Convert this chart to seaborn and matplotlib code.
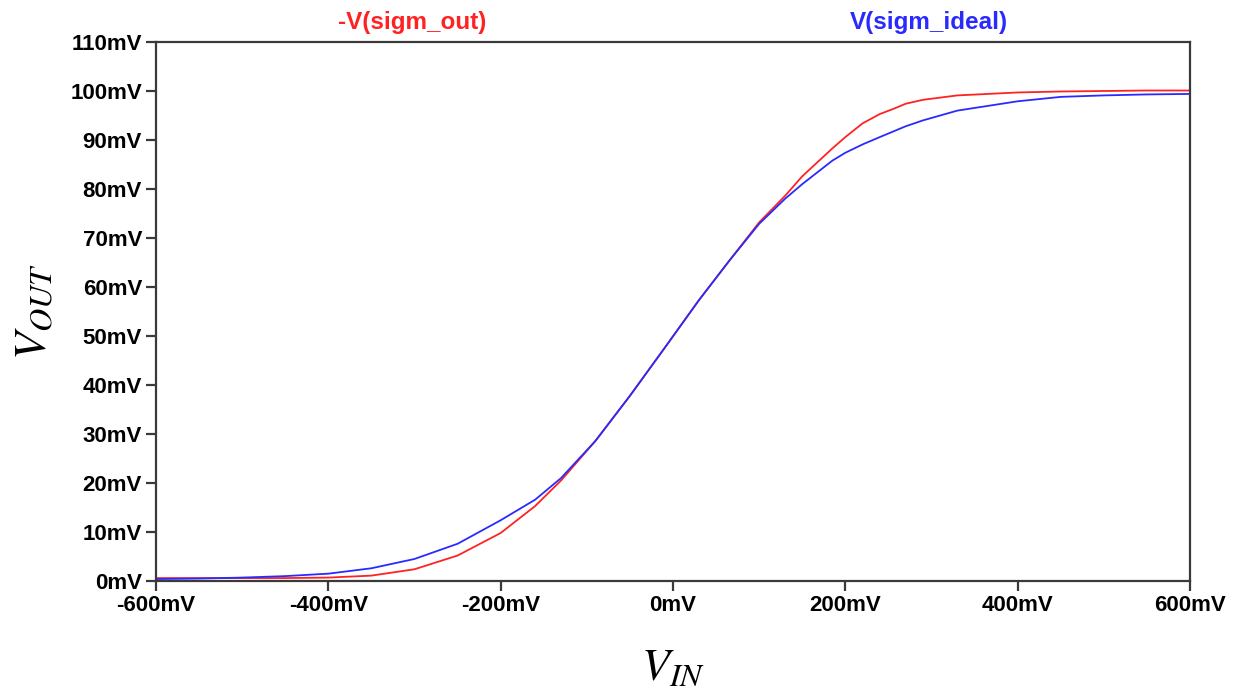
import numpy as np
import pandas as pd
import matplotlib
matplotlib.use("Agg")
import matplotlib.pyplot as plt
import seaborn as sns
from matplotlib.ticker import FuncFormatter, MultipleLocator

# 入力電圧 (mV)
vin_mv = [-600, -550, -500, -450, -400, -350, -300, -250, -200, -160, -130,
          -90, -50, -10, 30, 65, 100, 130, 150, 185, 200, 220, 240, 255, 270,
          290, 330, 400, 450, 500, 550, 600]

# -V(sigm_out) (mV)
sigm_out_mv = [0.6, 0.6, 0.6, 0.6, 0.7, 1.1, 2.4, 5.2, 9.8, 15.3, 20.5,
               28.6, 37.8, 47.5, 57.3, 65.3, 73.2, 78.6, 82.6, 88.3, 90.6,
               93.4, 95.3, 96.3, 97.4, 98.2, 99.1, 99.7, 99.9, 100.0, 100.1,
               100.1]

# V(sigm_ideal) (mV)
sigm_ideal_mv = [0.4, 0.5, 0.7, 1.0, 1.5, 2.6, 4.5, 7.6, 12.4, 16.6, 21.0,
                 28.6, 37.8, 47.5, 57.3, 65.3, 72.9, 78.0, 81.0, 85.8, 87.4,
                 89.1, 90.6, 91.7, 92.8, 94.0, 96.0, 97.9, 98.8, 99.1, 99.3,
                 99.4]

trace_names = ["-V(sigm_out)", "V(sigm_ideal)"]
trace_colors = ["#ff2222", "#2a2aff"]

df = pd.concat([
    pd.DataFrame({"vin": vin_mv, "vout": sigm_out_mv, "trace": trace_names[0]}),
    pd.DataFrame({"vin": vin_mv, "vout": sigm_ideal_mv, "trace": trace_names[1]}),
])

sns.set_style("ticks")
plt.rcParams["font.family"] = ["Liberation Sans", "DejaVu Sans"]
plt.rcParams["mathtext.fontset"] = "stix"

fig = plt.figure(figsize=(12.39, 6.93), dpi=100)
ax = fig.add_axes([0.1259, 0.1616, 0.8346, 0.7778])

sns.lineplot(data=df, x="vin", y="vout", hue="trace",
             palette=dict(zip(trace_names, trace_colors)),
             linewidth=1.3, legend=False, ax=ax)

ax.set_xlim(-600, 600)
ax.set_ylim(0, 110)
ax.xaxis.set_major_locator(MultipleLocator(200))
ax.yaxis.set_major_locator(MultipleLocator(10))
fmt = FuncFormatter(lambda v, p: f"{int(round(v))}mV")
ax.xaxis.set_major_formatter(fmt)
ax.yaxis.set_major_formatter(fmt)

for side in ["left", "right", "top", "bottom"]:
    ax.spines[side].set_color("#3a3a3a")
    ax.spines[side].set_linewidth(1.6)
ax.tick_params(direction="out", length=7, width=1.6, color="#3a3a3a",
               labelsize=16, labelcolor="black", pad=3)
for lab in ax.get_xticklabels() + ax.get_yticklabels():
    lab.set_fontweight("bold")

ax.set_xlabel(r"$V_{IN}$", fontsize=33, labelpad=22, color="black")
ax.set_ylabel(r"$V_{OUT}$", fontsize=33, labelpad=10, color="black")

# トレース名（上部）
fig.text(412 / 1239, 1 - 22 / 693, trace_names[0], color=trace_colors[0],
         fontsize=17.5, fontweight="bold", ha="center", va="center")
fig.text(929 / 1239, 1 - 22 / 693, trace_names[1], color=trace_colors[1],
         fontsize=17.5, fontweight="bold", ha="center", va="center")

fig.savefig("out.png", dpi=100)
